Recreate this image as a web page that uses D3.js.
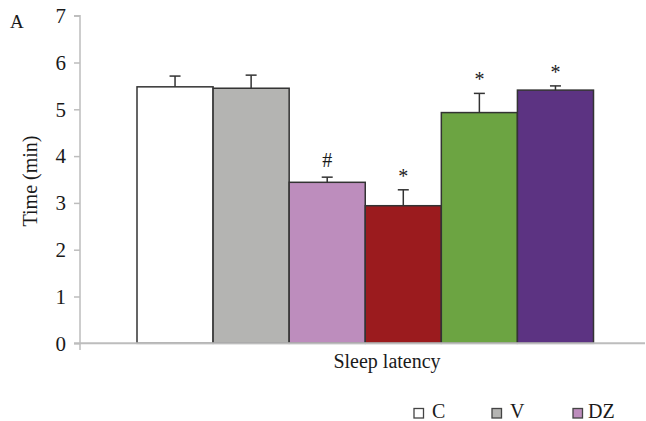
<!DOCTYPE html>
<html><head><meta charset="utf-8">
<script src="https://cdn.jsdelivr.net/npm/d3@7"></script>
<style>body{margin:0;background:#fff}svg{display:block}text{font-family:"Liberation Serif",serif !important;fill:#1a1a1a}</style>
</head><body><svg id="c" width="646" height="421"></svg>
<script>
const groups = ["C","V","DZ","G4","G5","G6"];
const means = [5.48, 5.45, 3.44, 2.94, 4.93, 5.41];
const errors = [0.23, 0.28, 0.11, 0.34, 0.41, 0.09];
const marks = ["", "", "#", "*", "*", "*"];
const colors = ["#ffffff","#b4b4b2","#bd8dbd","#9b1b1e","#6ca442","#5c3382"];
const yTicks = [0,1,2,3,4,5,6,7];
const legendItems = ["C","V","DZ"];

const svg = d3.select("#c");
const x = d3.scaleBand().domain(groups).range([137, 593.5]).padding(0);
const y = d3.scaleLinear().domain([0,7]).range([343.3, 15.7]);

const yAxis = svg.append("g").attr("transform","translate(80,0)")
  .call(d3.axisLeft(y).tickValues(yTicks).tickSize(6).tickPadding(8).tickFormat(d3.format("d")));
yAxis.attr("font-family","Liberation Serif");
yAxis.select(".domain").attr("stroke","#bdbdbd").attr("stroke-width",1.5).attr("d","M-6,15.7H0V350");
yAxis.selectAll(".tick line").attr("stroke","#bdbdbd").attr("stroke-width",1.5);
yAxis.selectAll(".tick text").attr("font-size",21).attr("fill","#1a1a1a");

svg.selectAll("rect.bar").data(groups).join("rect").attr("class","bar")
  .attr("x", d=>x(d)).attr("width", x.bandwidth())
  .attr("y", (d,i)=>y(means[i])).attr("height",(d,i)=>y(0)-y(means[i]))
  .attr("fill",(d,i)=>colors[i]).attr("stroke","#333").attr("stroke-width",1.5);

svg.append("line").attr("x1",74).attr("x2",645).attr("y1",y(0)).attr("y2",y(0))
  .attr("stroke","#bdbdbd").attr("stroke-width",2);

const eb = svg.selectAll("g.eb").data(groups).join("g").attr("class","eb");
eb.append("line").attr("x1",d=>x(d)+x.bandwidth()/2).attr("x2",d=>x(d)+x.bandwidth()/2)
  .attr("y1",(d,i)=>y(means[i])).attr("y2",(d,i)=>y(means[i]+errors[i])).attr("stroke","#333").attr("stroke-width",1.5);
eb.append("line").attr("x1",d=>x(d)+x.bandwidth()/2-5.5).attr("x2",d=>x(d)+x.bandwidth()/2+5.5)
  .attr("y1",(d,i)=>y(means[i]+errors[i])).attr("y2",(d,i)=>y(means[i]+errors[i])).attr("stroke","#333").attr("stroke-width",1.5);
eb.append("text").attr("x",d=>x(d)+x.bandwidth()/2).attr("y",(d,i)=>y(means[i]+errors[i])-(marks[i]==="#"?10:7))
  .attr("text-anchor","middle").attr("font-size",20).text((d,i)=>marks[i]);

svg.append("text").attr("x",10).attr("y",28).attr("font-size",19).text("A");
svg.append("text").attr("transform","translate(37,181) rotate(-90)").attr("text-anchor","middle").attr("font-size",20).text("Time (min)");
svg.append("text").attr("x",387).attr("y",368).attr("text-anchor","middle").attr("font-size",20).text("Sleep latency");

const lx = [414, 492, 573];
const lg = svg.selectAll("g.lg").data(legendItems).join("g").attr("class","lg")
  .attr("transform",(d,i)=>`translate(${lx[i]},0)`);
lg.append("rect").attr("x",0).attr("y",408.5).attr("width",9.5).attr("height",9.5)
  .attr("fill",(d,i)=>colors[i]).attr("stroke","#444").attr("stroke-width",1.3);
lg.append("text").attr("x",(d,i)=>i<2?18:15).attr("y",418).attr("font-size",20).text(d=>d);
</script></body></html>
